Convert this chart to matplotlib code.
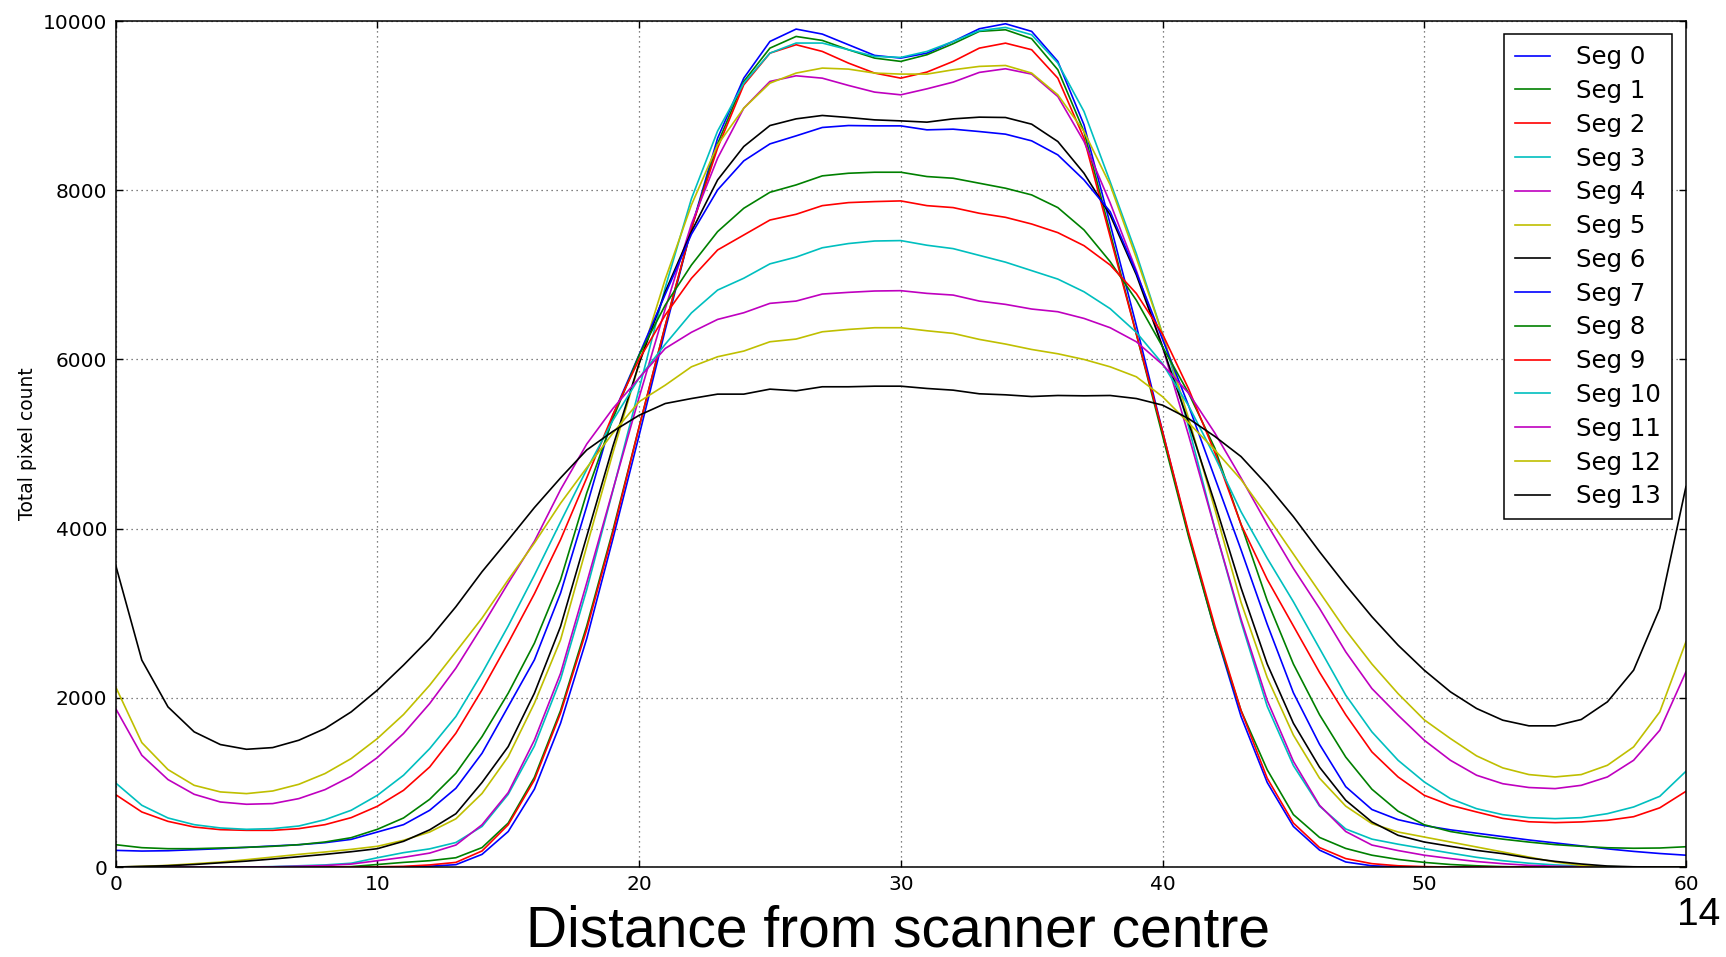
import numpy as np
import matplotlib
matplotlib.use("Agg")
import matplotlib.pyplot as plt

# distance bins 0..60
distance = list(range(61))

seg_0 = [0, 0, 0, 0, 0, 0, 0, 0, 0, 0, 0, 3, 10, 28, 150, 420, 920, 1700, 2700, 3880, 5100,
         6350, 7550, 8615, 9325, 9759, 9905, 9846, 9720, 9594, 9562,
         9621, 9759, 9909, 9968, 9878, 9523, 8773, 7600, 6400, 5150,
         3925, 2803, 1780, 1000, 480, 200, 60, 15, 3, 0,
         0, 0, 0, 0, 0, 0, 0, 0, 0, 0]
seg_1 = [0, 0, 0, 0, 0, 0, 0, 0, 0, 5, 30, 55, 75, 110, 230, 520, 1060, 1850, 2850, 3980, 5200,
         6400, 7550, 8550, 9286, 9680, 9818, 9771, 9661, 9562, 9523,
         9602, 9732, 9878, 9897, 9791, 9424, 8694, 7500, 6300, 5100,
         3900, 2800, 1850, 1150, 620, 350, 220, 140, 90, 55,
         30, 15, 5, 0, 0, 0, 0, 0, 0, 0]
seg_2 = [0, 0, 0, 0, 0, 0, 0, 0, 0, 0, 3, 8, 25, 55, 190, 500, 1030, 1820, 2810, 3950, 5200,
         6400, 7550, 8500, 9246, 9621, 9720, 9641, 9503, 9385, 9325,
         9397, 9523, 9680, 9739, 9661, 9325, 8615, 7450, 6300, 5150,
         3950, 2850, 1850, 1050, 520, 230, 100, 40, 15, 5,
         0, 0, 0, 0, 0, 0, 0, 0, 0, 0]
seg_3 = [0, 0, 0, 0, 0, 0, 5, 15, 25, 45, 110, 170, 215, 290, 480, 860, 1430, 2220, 3280, 4450, 5650,
         6850, 7900, 8700, 9266, 9621, 9740, 9740, 9661, 9582, 9570,
         9641, 9759, 9886, 9925, 9838, 9503, 8931, 8100, 7250, 6300,
         5200, 4000, 2900, 1900, 1200, 720, 450, 330, 270, 217,
         165, 115, 75, 45, 25, 12, 5, 0, 0, 0]
seg_4 = [0, 0, 0, 0, 0, 0, 3, 10, 18, 35, 75, 115, 165, 260, 500, 880, 1500, 2290, 3360, 4460, 5550,
         6600, 7600, 8379, 8970, 9286, 9353, 9325, 9239, 9160, 9128,
         9199, 9278, 9393, 9436, 9373, 9108, 8576, 7850, 7050, 6150,
         5100, 4000, 2930, 1970, 1250, 730, 420, 260, 195, 140,
         100, 65, 40, 20, 10, 4, 0, 0, 0, 0]
seg_5 = [0, 8, 20, 39, 59, 87, 118, 150, 178, 209, 245, 316, 414, 570, 870, 1305, 1936, 2686, 3790, 4895, 5950,
         6950, 7826, 8536, 8970, 9266, 9385, 9444, 9432, 9385, 9373,
         9373, 9424, 9464, 9475, 9385, 9128, 8694, 8063, 7200, 6300,
         5300, 4230, 3130, 2240, 1560, 1050, 720, 513, 414, 355,
         296, 237, 178, 118, 59, 20, 5, 0, 0, 0]
seg_6 = [0, 8, 16, 30, 50, 70, 95, 122, 150, 181, 217, 304, 440, 630, 1000, 1424, 2055, 2844, 3909, 4974, 5950,
         6800, 7511, 8122, 8517, 8765, 8844, 8884, 8860, 8832, 8820,
         8805, 8844, 8864, 8860, 8781, 8576, 8201, 7708, 7000, 6150,
         5250, 4300, 3300, 2400, 1700, 1180, 789, 533, 375, 296,
         245, 197, 158, 107, 67, 36, 12, 3, 0, 0]
seg_7 = [197, 189, 193, 205, 217, 233, 249, 264, 288, 327, 414, 501, 671, 931, 1345, 1897, 2449, 3238, 4264, 5340, 6055,
         6770, 7480, 8004, 8347, 8548, 8643, 8742, 8765, 8761, 8761,
         8714, 8722, 8694, 8663, 8584, 8418, 8122, 7747, 7026, 6240,
         5450, 4600, 3750, 2870, 2060, 1450, 950, 680, 560, 490,
         440, 400, 360, 320, 285, 250, 215, 185, 160, 140]
seg_8 = [264, 229, 217, 217, 225, 233, 245, 264, 296, 347, 446, 580, 801, 1108, 1542, 2055, 2646, 3396, 4422, 5300, 6050,
         6643, 7116, 7511, 7787, 7976, 8063, 8170, 8201, 8213, 8213,
         8162, 8142, 8083, 8024, 7945, 7795, 7531, 7156, 6700, 6150,
         5600, 4950, 4050, 3150, 2400, 1800, 1300, 920, 660, 500,
         420, 370, 330, 295, 265, 245, 228, 222, 225, 240]
seg_9 = [856, 651, 540, 473, 442, 434, 434, 454, 501, 584, 718, 907, 1183, 1582, 2095, 2650, 3230, 3870, 4600, 5350, 6000,
         6525, 6959, 7294, 7471, 7648, 7716, 7818, 7854, 7866, 7874,
         7818, 7795, 7728, 7680, 7601, 7499, 7345, 7116, 6780, 6300,
         5650, 4900, 4050, 3400, 2850, 2300, 1800, 1361, 1065, 848,
         730, 651, 575, 535, 525, 533, 552, 595, 700, 895]
seg_10 = [994, 730, 580, 501, 462, 446, 454, 485, 560, 671, 848, 1085, 1400, 1779, 2292, 2850, 3450, 4080, 4700, 5280, 5780,
          6180, 6550, 6820, 6960, 7130, 7210, 7320, 7370, 7400, 7405,
          7350, 7310, 7230, 7150, 7050, 6950, 6800, 6600, 6320, 5950,
          5450, 4850, 4200, 3650, 3136, 2584, 2032, 1598, 1262, 1006,
          809, 690, 619, 584, 572, 584, 631, 710, 836, 1132]
seg_11 = [1874, 1321, 1034, 860, 769, 742, 750, 809, 915, 1073, 1294, 1578, 1933, 2351, 2844, 3357, 3850, 4461, 5000, 5420, 5780,
          6130, 6321, 6473, 6552, 6663, 6690, 6773, 6793, 6809, 6813,
          6781, 6761, 6690, 6651, 6596, 6564, 6485, 6375, 6209, 5940,
          5600, 5130, 4600, 4050, 3530, 3057, 2544, 2110, 1795, 1499,
          1262, 1085, 985, 940, 927, 966, 1065, 1262, 1617, 2308]
seg_12 = [2130, 1471, 1152, 966, 888, 868, 899, 978, 1105, 1282, 1519, 1803, 2150, 2544, 2943, 3396, 3830, 4300, 4720, 5130, 5500,
          5696, 5913, 6032, 6099, 6209, 6241, 6327, 6355, 6375, 6375,
          6339, 6308, 6237, 6182, 6118, 6067, 6000, 5913, 5795, 5560,
          5250, 4930, 4580, 4150, 3700, 3250, 2800, 2400, 2050, 1740,
          1519, 1314, 1172, 1093, 1065, 1093, 1203, 1420, 1834, 2663]
seg_13 = [3570, 2446, 1893, 1598, 1448, 1392, 1412, 1499, 1637, 1834, 2091, 2387, 2702, 3077, 3491, 3866, 4249, 4600, 4930, 5150, 5340,
          5479, 5538, 5590, 5590, 5649, 5629, 5677, 5677, 5684, 5684,
          5657, 5637, 5594, 5582, 5562, 5574, 5570, 5574, 5538, 5460,
          5300, 5090, 4852, 4517, 4142, 3728, 3333, 2959, 2623, 2327,
          2071, 1874, 1736, 1669, 1669, 1744, 1953, 2327, 3057, 4497]

segments = [seg_0, seg_1, seg_2, seg_3, seg_4, seg_5, seg_6,
            seg_7, seg_8, seg_9, seg_10, seg_11, seg_12, seg_13]
labels = [f"Seg {i}" for i in range(len(segments))]

# old-style matplotlib cycle b g r c m y k
COLOURS = ["#0000ff", "#008000", "#ff0000", "#00bfbf", "#bf00bf", "#bfbf00", "#000000"]


def main():
    fig = plt.figure(figsize=(17.26, 9.57), dpi=100)
    ax = fig.add_axes([0.067, 0.094, 0.9098, 0.884])

    for i, (vals, lab) in enumerate(zip(segments, labels)):
        ax.plot(distance, vals, color=COLOURS[i % len(COLOURS)], lw=1.2, label=lab)

    ax.set_xlim(0, 60)
    ax.set_ylim(0, 10000)
    ax.set_xticks(range(0, 61, 10))
    ax.set_yticks(range(0, 10001, 2000))
    ax.grid(True, color="0.35", linestyle=(0, (1, 3)), linewidth=0.9)
    ax.tick_params(direction="in", top=True, right=True, length=5, width=1,
                   labelsize=14.5, pad=6)
    for sp in ax.spines.values():
        sp.set_linewidth(1.1)

    ax.set_ylabel("Total pixel count", fontsize=13.5, labelpad=4)

    leg = ax.legend(loc="upper right", bbox_to_anchor=(0.9910, 0.9845),
                    borderaxespad=0, fontsize=17.6, labelspacing=0.4,
                    handlelength=1.45, handletextpad=1.05, borderpad=0.45,
                    fancybox=False, framealpha=1)
    leg.get_frame().set_edgecolor("black")
    leg.get_frame().set_linewidth(1.1)

    # big slide caption under the axes, plus the slide number
    fig.text(0.52, 0.011, "Distance from scanner centre", fontsize=41,
             family="Liberation Sans", ha="center", va="baseline")
    fig.text(0.984, 0.044, "14", fontsize=28, family="Liberation Sans",
             ha="center", va="center")

    fig.savefig("out.png", dpi=100)


if __name__ == "__main__":
    main()
